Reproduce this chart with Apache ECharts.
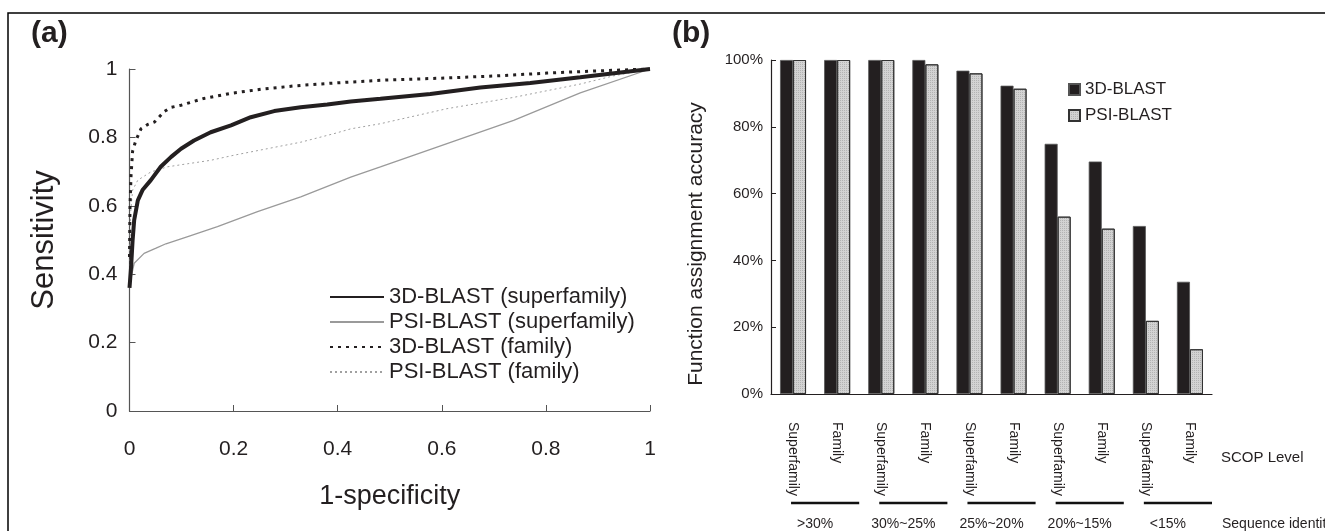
<!DOCTYPE html>
<html>
<head>
<meta charset="utf-8">
<script src="https://cdn.jsdelivr.net/npm/echarts@6/dist/echarts.min.js"></script>
<style>
html,body{margin:0;padding:0;background:#fff;}
#chart{width:1325px;height:531px;}
</style>
</head>
<body>
<div id="chart"></div>
<script>
// ---------- Panel (a): ROC curves ----------
const xTicks = [0, 0.2, 0.4, 0.6, 0.8, 1];
const yTicks = [0, 0.2, 0.4, 0.6, 0.8, 1];

const sf3dX = [0, 0.003, 0.006, 0.009, 0.016, 0.025, 0.041, 0.06, 0.08, 0.099, 0.124, 0.156, 0.195, 0.233, 0.278, 0.329, 0.38, 0.425, 0.482, 0.578, 0.674, 0.77, 0.866, 1.0];
const sf3dY = [0.36, 0.42, 0.5, 0.558, 0.616, 0.646, 0.675, 0.714, 0.743, 0.767, 0.791, 0.815, 0.835, 0.859, 0.877, 0.888, 0.896, 0.905, 0.913, 0.927, 0.946, 0.959, 0.976, 1.0];

const sfPsiX = [0, 0.003, 0.009, 0.028, 0.051, 0.07, 0.112, 0.169, 0.246, 0.329, 0.425, 0.482, 0.61, 0.738, 0.866, 1.0];
const sfPsiY = [0.36, 0.39, 0.432, 0.461, 0.476, 0.489, 0.51, 0.539, 0.583, 0.626, 0.684, 0.714, 0.782, 0.85, 0.93, 1.0];

const fam3dX = [0, 0.001, 0.003, 0.006, 0.012, 0.022, 0.035, 0.048, 0.067, 0.08, 0.099, 0.143, 0.195, 0.259, 0.32, 0.393, 0.495, 0.597, 0.706, 0.802, 0.891, 1.0];
const fam3dY = [0.45, 0.6, 0.69, 0.76, 0.79, 0.825, 0.838, 0.845, 0.876, 0.888, 0.894, 0.914, 0.929, 0.942, 0.951, 0.959, 0.968, 0.973, 0.98, 0.988, 0.994, 1.0];

const famPsiX = [0, 0.002, 0.006, 0.016, 0.041, 0.073, 0.112, 0.156, 0.201, 0.265, 0.329, 0.393, 0.425, 0.482, 0.61, 0.738, 0.866, 0.93, 1.0];
const famPsiY = [0.38, 0.578, 0.646, 0.675, 0.699, 0.714, 0.723, 0.733, 0.748, 0.767, 0.786, 0.811, 0.825, 0.84, 0.884, 0.917, 0.956, 0.98, 1.0];

const rocNames = ['3D-BLAST (superfamily)', 'PSI-BLAST (superfamily)', '3D-BLAST (family)', 'PSI-BLAST (family)'];

// ---------- Panel (b): bars ----------
const scopLevels = ['Superfamily', 'Family', 'Superfamily', 'Family', 'Superfamily', 'Family', 'Superfamily', 'Family', 'Superfamily', 'Family'];
const identityGroups = ['>30%', '30%~25%', '25%~20%', '20%~15%', '<15%'];
const blast3d = [100, 100, 100, 100, 96.8, 92.3, 74.9, 69.6, 50.3, 33.6];
const psiBlast = [100, 100, 100, 98.7, 96.0, 91.4, 53.1, 49.5, 21.9, 13.4];
const barNames = ['3D-BLAST', 'PSI-BLAST'];

const FONT = "'Liberation Sans', Arial, Helvetica, sans-serif";
const INK = '#231f20';

function pairs(xs, ys) { return xs.map((x, i) => [x, ys[i]]); }

const chart = echarts.init(document.getElementById('chart'), null, {renderer: 'canvas'});

const option = {
  backgroundColor: '#fff',
  animation: false,
  textStyle: {fontFamily: FONT, color: INK},
  grid: [
    {left: 129.5, right: 675, top: 69, bottom: 120, containLabel: false},
    {left: 771, right: 113, top: 60, bottom: 135, containLabel: false}
  ],
  legend: [
    {
      data: rocNames, orient: 'vertical', left: 329, top: 286, padding: 0,
      itemWidth: 54, itemHeight: 14, itemGap: 3,
      itemStyle: {opacity: 0, borderWidth: 0},
      textStyle: {fontFamily: FONT, fontSize: 22, color: INK, lineHeight: 22},
      selectedMode: false
    },
    {
      data: barNames, orient: 'vertical', left: 1068, top: 81, padding: 0,
      itemWidth: 11, itemHeight: 11, itemGap: 9, icon: 'rect',
      textStyle: {fontFamily: FONT, fontSize: 17, color: INK},
      selectedMode: false
    }
  ],
  xAxis: [
    {
      gridIndex: 0, type: 'value', min: xTicks[0], max: xTicks[xTicks.length - 1], interval: 0.2,
      axisLine: {show: true, lineStyle: {color: '#555', width: 1.2}},
      axisTick: {show: true, inside: true, length: 6, lineStyle: {color: '#555'}},
      splitLine: {show: false},
      axisLabel: {fontFamily: FONT, fontSize: 21, color: INK, margin: 28},
      name: '1-specificity', nameLocation: 'middle', nameGap: 72,
      nameTextStyle: {fontFamily: FONT, fontSize: 27, color: INK}
    },
    {
      gridIndex: 1, type: 'category', data: scopLevels,
      axisLine: {show: true, lineStyle: {color: INK, width: 1.2}},
      axisTick: {show: false},
      axisLabel: {interval: 0, rotate: -90, fontFamily: FONT, fontSize: 14, color: INK, margin: 28}
    },
    {
      gridIndex: 1, type: 'category', data: identityGroups, position: 'bottom', offset: 121,
      axisLine: {show: false}, axisTick: {show: false},
      axisLabel: {interval: 0, fontFamily: FONT, fontSize: 14, color: INK, margin: 2}
    }
  ],
  yAxis: [
    {
      gridIndex: 0, type: 'value', min: yTicks[0], max: yTicks[yTicks.length - 1], interval: 0.2,
      axisLine: {show: true, lineStyle: {color: '#555', width: 1.2}},
      axisTick: {show: true, inside: true, length: 6, lineStyle: {color: '#555'}},
      splitLine: {show: false},
      axisLabel: {fontFamily: FONT, fontSize: 21, color: INK, margin: 12},
      name: 'Sensitivity', nameLocation: 'middle', nameGap: 70,
      nameTextStyle: {fontFamily: FONT, fontSize: 31, color: INK}
    },
    {
      gridIndex: 1, type: 'value', min: 0, max: 100, interval: 20,
      axisLine: {show: true, lineStyle: {color: INK, width: 1.2}},
      axisTick: {show: true, inside: true, length: 5, lineStyle: {color: INK}},
      splitLine: {show: false},
      axisLabel: {formatter: '{value}%', fontFamily: FONT, fontSize: 15, color: INK, margin: 8}
    }
  ],
  series: [
    {
      name: rocNames[1], type: 'line', xAxisIndex: 0, yAxisIndex: 0, data: pairs(sfPsiX, sfPsiY),
      symbol: 'none', lineStyle: {color: '#9a9a9a', width: 1.3}, itemStyle: {color: '#9a9a9a'}
    },
    {
      name: rocNames[3], type: 'line', xAxisIndex: 0, yAxisIndex: 0, data: pairs(famPsiX, famPsiY),
      symbol: 'none', lineStyle: {color: '#a0a0a0', width: 1, type: [2, 3]}, itemStyle: {color: '#a0a0a0'}
    },
    {
      name: rocNames[0], type: 'line', xAxisIndex: 0, yAxisIndex: 0, data: pairs(sf3dX, sf3dY),
      symbol: 'none', lineStyle: {color: INK, width: 4}, itemStyle: {color: INK}
    },
    {
      name: rocNames[2], type: 'line', xAxisIndex: 0, yAxisIndex: 0, data: pairs(fam3dX, fam3dY),
      symbol: 'none', lineStyle: {color: INK, width: 3, type: [3, 5]}, itemStyle: {color: INK}
    },
    {
      name: barNames[0], type: 'bar', xAxisIndex: 1, yAxisIndex: 1, data: blast3d,
      barGap: '0%', barCategoryGap: '41%',
      itemStyle: {color: INK, borderColor: '#555', borderWidth: 0.8}
    },
    {
      name: barNames[1], type: 'bar', xAxisIndex: 1, yAxisIndex: 1, data: psiBlast,
      itemStyle: {
        color: '#d3d3d3', borderColor: '#333', borderWidth: 1,
        decal: {symbol: 'rect', symbolSize: 1, dashArrayX: [1, 1], dashArrayY: [1, 1], color: 'rgba(120,120,120,0.35)'}
      }
    }
  ],
  graphic: [
    {id: 'frame', type: 'rect', silent: true, shape: {x: 8, y: 13, width: 1400, height: 600},
     style: {fill: 'none', stroke: '#000', lineWidth: 1.5}},
    {id: 'ta', type: 'text', left: 31, top: 19, style: {text: '(a)', font: "bold 30px " + FONT, fill: INK}},
    {id: 'tb', type: 'text', left: 672, top: 19, style: {text: '(b)', font: "bold 30px " + FONT, fill: INK}},
    {id: 'yname', type: 'text', x: 696, y: 244, rotation: Math.PI / 2,
     style: {text: 'Function assignment accuracy', font: "21px " + FONT, fill: INK, align: 'center', verticalAlign: 'middle'}},
    {id: 'scop', type: 'text', left: 1221, top: 450, style: {text: 'SCOP Level', font: "15px " + FONT, fill: INK}},
    {id: 'seqid', type: 'text', left: 1222, top: 517, style: {text: 'Sequence identity', font: "14px " + FONT, fill: INK}}
  ]
};

chart.setOption(option);

// group underline bars beneath each pair of SCOP levels, positioned from the category axis
const extra = [];
for (let g = 0; g < identityGroups.length; g++) {
  const c0 = chart.convertToPixel({xAxisIndex: 1}, 2 * g);
  const c1 = chart.convertToPixel({xAxisIndex: 1}, 2 * g + 1);
  const band = c1 - c0;
  extra.push({
    id: 'ul' + g, type: 'line', silent: true,
    shape: {x1: c0 - 2, y1: 503, x2: c1 + band / 2, y2: 503},
    style: {stroke: '#111', lineWidth: 2.5}
  });
}
chart.setOption({graphic: extra});
</script>
</body>
</html>
